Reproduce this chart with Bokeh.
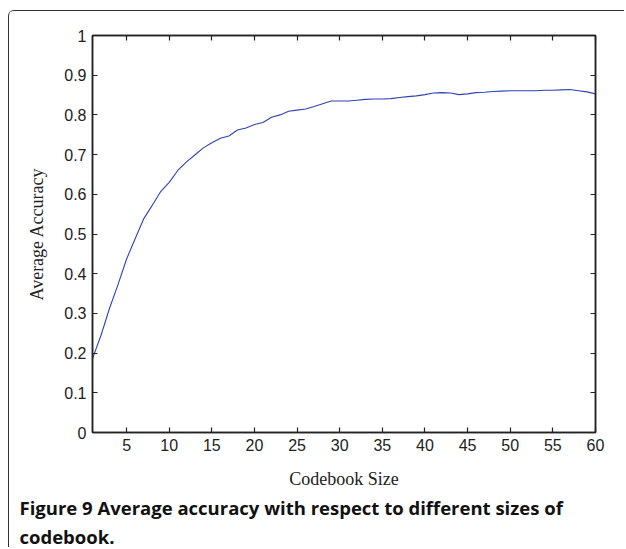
from bokeh.plotting import figure
from bokeh.models import Range1d, LinearAxis, FixedTicker, Title
from bokeh.embed import file_html
from bokeh.resources import INLINE

codebook_size = list(range(1, 61))
average_accuracy = [
    0.186, 0.245, 0.313, 0.373, 0.437, 0.488, 0.538, 0.572, 0.607, 0.630,
    0.660, 0.681, 0.699, 0.717, 0.730, 0.741, 0.747, 0.762, 0.767, 0.776,
    0.781, 0.794, 0.800, 0.809, 0.812, 0.815, 0.821, 0.828, 0.835, 0.835,
    0.835, 0.837, 0.839, 0.840, 0.840, 0.841, 0.844, 0.846, 0.848, 0.851,
    0.855, 0.856, 0.855, 0.851, 0.853, 0.856, 0.857, 0.859, 0.860, 0.861,
    0.861, 0.861, 0.861, 0.862, 0.862, 0.863, 0.864, 0.861, 0.858, 0.853,
]
x_ticks = [5, 10, 15, 20, 25, 30, 35, 40, 45, 50, 55, 60]
y_ticks = [0, 0.1, 0.2, 0.3, 0.4, 0.5, 0.6, 0.7, 0.8, 0.9, 1]
y_tick_labels = {0: "0", 0.1: "0.1", 0.2: "0.2", 0.3: "0.3", 0.4: "0.4", 0.5: "0.5",
                 0.6: "0.6", 0.7: "0.7", 0.8: "0.8", 0.9: "0.9", 1: "1"}
x_label = "Codebook Size"
y_label = "Average Accuracy"
caption_line1 = "Figure 9 Average accuracy with respect to different sizes of"
caption_line2 = "codebook."

p = figure(width=616, height=537, output_backend="svg", toolbar_location=None,
           x_range=Range1d(1, 60), y_range=Range1d(0, 1),
           x_axis_location=None, y_axis_location=None,
           min_border_left=83, min_border_right=30, min_border_top=24, min_border_bottom=40)
p.margin = (10, 0, 0, 8)
p.styles = {"border-top": "1.5px solid #333333", "border-left": "1.5px solid #333333",
            "border-top-left-radius": "6px", "box-sizing": "border-box"}
p.grid.visible = False
p.outline_line_color = "#222222"
p.outline_line_width = 1.5
p.background_fill_color = "white"
p.border_fill_color = "white"

def style_axis(ax, show_labels):
    ax.major_tick_in = 5
    ax.major_tick_out = 0
    ax.minor_tick_line_color = None
    ax.axis_line_color = "#222222"
    ax.axis_line_width = 1.5
    ax.major_tick_line_color = "#222222"
    ax.major_tick_line_width = 1.2
    ax.major_label_text_font = "Liberation Sans"
    ax.major_label_text_font_size = "16px"
    ax.major_label_text_color = "#222222"
    ax.major_label_standoff = 6
    if not show_labels:
        ax.major_label_text_font_size = "0px"
        ax.major_label_standoff = 0

bottom = LinearAxis(ticker=FixedTicker(ticks=x_ticks), axis_label=x_label)
style_axis(bottom, True)
bottom.axis_label_text_font = "Liberation Serif"
bottom.axis_label_text_font_style = "normal"
bottom.axis_label_text_font_size = "18px"
bottom.axis_label_text_color = "#222222"
bottom.axis_label_standoff = 15
p.add_layout(bottom, "below")

left = LinearAxis(ticker=FixedTicker(ticks=y_ticks), axis_label=y_label,
                  major_label_overrides=y_tick_labels)
style_axis(left, True)
left.axis_label_text_font = "Liberation Serif"
left.axis_label_text_font_style = "normal"
left.axis_label_text_font_size = "18px"
left.axis_label_text_color = "#222222"
left.axis_label_standoff = 14
p.add_layout(left, "left")

top = LinearAxis(ticker=FixedTicker(ticks=x_ticks),
                 major_label_overrides={t: "" for t in x_ticks})
style_axis(top, False)
p.add_layout(top, "above")

right = LinearAxis(ticker=FixedTicker(ticks=y_ticks),
                   major_label_overrides={t: "" for t in y_ticks})
style_axis(right, False)
p.add_layout(right, "right")

p.line(codebook_size, average_accuracy, line_color="#3042b4", line_width=1.1)

cap1 = Title(text=caption_line1, align="left", offset=-73, standoff=3,
             text_font="Open Sans", text_font_style="bold", text_font_size="18.5px",
             text_color="#111111")
cap2 = Title(text=caption_line2, align="left", offset=-73, standoff=0,
             text_font="Open Sans", text_font_style="bold", text_font_size="18.5px",
             text_color="#111111")
p.add_layout(cap1, "below")
p.add_layout(cap2, "below")

open("out.html", "w").write(file_html(p, INLINE))
